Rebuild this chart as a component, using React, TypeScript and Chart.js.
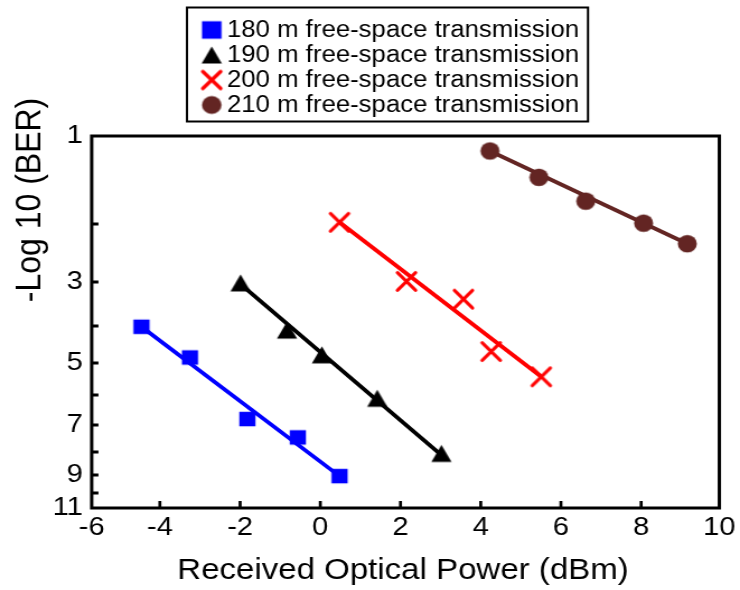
import React, { useEffect, useRef } from 'react';
import { Chart, LinearScale, registerables } from 'chart.js';

Chart.register(...registerables);

// ---------------- data ----------------
const seriesLabels = [
  '180 m free-space transmission',
  '190 m free-space transmission',
  '200 m free-space transmission',
  '210 m free-space transmission',
];

const power180 = [-4.46, -3.25, -1.82, -0.56, 0.48];
const ber180 = [4.02, 4.85, 6.8, 7.46, 9.06];
const power190 = [-1.99, -0.83, 0.04, 1.42, 3.02];
const ber190 = [3.02, 4.11, 4.78, 6.11, 8.06];
const power200 = [0.48, 2.15, 3.57, 4.26, 5.51];
const ber200 = [1.98, 2.99, 3.39, 4.69, 5.43];
const power210 = [4.23, 5.45, 6.62, 8.06, 9.15];
const ber210 = [1.17, 1.47, 1.74, 1.99, 2.34];

// linear fit end points
const fit180Power = [-4.46, 0.48];
const fit180Ber = [4.02, 9.06];
const fit190Power = [-1.99, 3.02];
const fit190Ber = [3.05, 8.13];
const fit200Power = [0.48, 5.51];
const fit200Ber = [1.98, 5.43];
const fit210Power = [4.23, 9.15];
const fit210Ber = [1.17, 2.34];

const xTickValues = [-5.7, -4, -2, 0, 2, 4, 6, 8, 9.95];
const xTickLabels = ['-6', '-4', '-2', '0', '2', '4', '6', '8', '10'];
const yTickValues = [1, 2, 3, 4, 5, 6, 7, 8, 9, 10, 11];
const yTickLabels = ['1', '', '3', '', '5', '', '7', '', '9', '', '11'];
// relative position (0 = top, 1 = bottom) of each y tick value on the axis
const yAxisStops = [0, 0.2366, 0.3925, 0.5108, 0.6102, 0.6962, 0.7769, 0.8495, 0.9113, 0.9597, 1];

// ---------------- layout ----------------
const CSS_W = 740;
const H = 590;
const W = 661; // backing width, displayed stretched to CSS_W
const S = CSS_W / W;
const sx = (v: number) => v / S;
const PLOT_LEFT = sx(91.7);
const PLOT_RIGHT = sx(721);
const PLOT_TOP = 136;
const PLOT_BOTTOM = 508;
const FONT = '"Liberation Sans", Arial, sans-serif';

function warp(v: number): number {
  const vs = yTickValues, fs = yAxisStops;
  const n = vs.length - 1;
  if (v <= vs[0]) return fs[0] + ((v - vs[0]) * (fs[1] - fs[0])) / (vs[1] - vs[0]);
  for (let i = 1; i <= n; i++) {
    if (v <= vs[i]) {
      const t = (v - vs[i - 1]) / (vs[i] - vs[i - 1]);
      return fs[i - 1] + t * (fs[i] - fs[i - 1]);
    }
  }
  return fs[n] + ((v - vs[n]) * (fs[n] - fs[n - 1])) / (vs[n] - vs[n - 1]);
}
function unwarp(f: number): number {
  const vs = yTickValues, fs = yAxisStops;
  const n = vs.length - 1;
  for (let i = 1; i <= n; i++) {
    if (f <= fs[i] || i === n) {
      const t = (f - fs[i - 1]) / (fs[i] - fs[i - 1]);
      return vs[i - 1] + t * (vs[i] - vs[i - 1]);
    }
  }
  return vs[n];
}

class WarpedScale extends LinearScale {
  static id = 'warped';
  static defaults = LinearScale.defaults;
  getPixelForValue(value: any) {
    if (value === null || value === undefined || isNaN(value)) return NaN;
    return this.getPixelForDecimal(warp(value));
  }
  getValueForPixel(pixel: number) {
    return unwarp(this.getDecimalForPixel(pixel));
  }
}
Chart.register(WarpedScale as any);

function makeMarker(kind: string, w: number, h: number, color: string, lw = 3): HTMLCanvasElement {
  const c = document.createElement('canvas');
  c.width = Math.ceil(w + lw + 4);
  c.height = Math.ceil(h + lw + 4);
  const ctx = c.getContext('2d')!;
  const cx = c.width / 2, cy = c.height / 2;
  ctx.fillStyle = color;
  ctx.strokeStyle = color;
  if (kind === 'square') {
    ctx.fillRect(cx - w / 2, cy - h / 2, w, h);
  } else if (kind === 'circle') {
    ctx.beginPath();
    ctx.ellipse(cx, cy, w / 2, h / 2, 0, 0, Math.PI * 2);
    ctx.fill();
  } else if (kind === 'triangle') {
    ctx.beginPath();
    ctx.moveTo(cx, cy - h / 2);
    ctx.lineTo(cx + w / 2, cy + h / 2);
    ctx.lineTo(cx - w / 2, cy + h / 2);
    ctx.closePath();
    ctx.fill();
  } else {
    ctx.lineWidth = lw;
    ctx.lineCap = 'round';
    ctx.beginPath();
    ctx.moveTo(cx - w / 2, cy - h / 2);
    ctx.lineTo(cx + w / 2, cy + h / 2);
    ctx.moveTo(cx + w / 2, cy - h / 2);
    ctx.lineTo(cx - w / 2, cy + h / 2);
    ctx.stroke();
  }
  return c;
}

const COLORS = ['#0000FF', '#000000', '#FF0000', '#632523'];

export default function App() {
  const ref = useRef<HTMLCanvasElement>(null);

  useEffect(() => {
    if (!ref.current) return;
    const plotMarkers = [
      makeMarker('square', 14.5, 14.5, COLORS[0]),
      makeMarker('triangle', 18, 17, COLORS[1]),
      makeMarker('cross', 16, 17.5, COLORS[2], 3.3),
      makeMarker('circle', 17, 17.5, COLORS[3]),
    ];
    const legendMarkers = [
      makeMarker('square', 17.5, 17.5, COLORS[0]),
      makeMarker('triangle', 18, 17, COLORS[1]),
      makeMarker('cross', 16, 17, COLORS[2], 3.3),
      makeMarker('circle', 17.5, 18, COLORS[3]),
    ];

    const pts = (xs: number[], ys: number[]) => xs.map((x, i) => ({ x, y: ys[i] }));
    const series = [
      pts(power180, ber180),
      pts(power190, ber190),
      pts(power200, ber200),
      pts(power210, ber210),
    ];
    const fits = [
      pts(fit180Power, fit180Ber),
      pts(fit190Power, fit190Ber),
      pts(fit200Power, fit200Ber),
      pts(fit210Power, fit210Ber),
    ];

    const datasets: any[] = [];
    series.forEach((d, i) => {
      datasets.push({
        label: seriesLabels[i],
        data: d,
        showLine: false,
        pointStyle: plotMarkers[i],
        pointRadius: 9,
        backgroundColor: COLORS[i],
        borderColor: COLORS[i],
        order: 0,
      });
    });
    fits.forEach((d, i) => {
      datasets.push({
        label: seriesLabels[i] + ' fit',
        data: d,
        showLine: true,
        pointRadius: 0,
        borderWidth: 3.8,
        borderColor: COLORS[i],
        backgroundColor: COLORS[i],
        order: 1,
      });
    });

    const framePlugin = {
      id: 'frame',
      afterDatasetsDraw(chart: any) {
        const { ctx, chartArea: a, scales } = chart;
        const xs = scales.x, ys = scales.y;
        ctx.save();
        ctx.strokeStyle = '#000';
        ctx.lineWidth = 3;
        ctx.strokeRect(a.left, a.top, a.right - a.left, a.bottom - a.top);
        ctx.lineWidth = 2.7;
        ctx.beginPath();
        xs.ticks.forEach((_t: any, i: number) => {
          if (i === 0 || i === xs.ticks.length - 1) return;
          const px = xs.getPixelForTick(i);
          ctx.moveTo(px, a.bottom);
          ctx.lineTo(px, a.bottom - 7);
        });
        ctx.stroke();
        ctx.lineWidth = 3;
        ctx.beginPath();
        ys.ticks.forEach((_t: any, i: number) => {
          if (i === 0 || i === ys.ticks.length - 1) return;
          const py = ys.getPixelForTick(i);
          ctx.moveTo(a.left, py);
          ctx.lineTo(a.left + 6, py);
        });
        ctx.stroke();
        ctx.restore();
      },
    };

    const textPlugin = {
      id: 'texts',
      afterDraw(chart: any) {
        const { ctx } = chart;
        ctx.save();
        ctx.fillStyle = '#000';
        // axis titles
        ctx.textAlign = 'center';
        ctx.textBaseline = 'middle';
        ctx.font = `29.5px ${FONT}`;
        ctx.fillText('Received Optical Power (dBm)', sx(403), 571);
        ctx.save();
        ctx.translate(sx(30), 200);
        ctx.rotate(-Math.PI / 2);
        ctx.font = `32px ${FONT}`;
        ctx.fillText('-Log 10 (BER)', 0, 0);
        ctx.restore();
        // legend
        const L = sx(187), R = sx(588), T = 7.5, B = 121.5;
        ctx.strokeStyle = '#000';
        ctx.lineWidth = 2;
        ctx.strokeRect(L, T, R - L, B - T);
        ctx.textAlign = 'left';
        ctx.font = `23px ${FONT}`;
        seriesLabels.forEach((lab, i) => {
          const y = 30 + i * 25;
          const m = legendMarkers[i];
          ctx.drawImage(m, sx(211.7) - m.width / 2, y - m.height / 2);
          ctx.fillText(lab, sx(227), y + 1);
        });
        ctx.restore();
      },
    };

    const chart = new Chart(ref.current, {
      type: 'scatter',
      data: { datasets },
      options: {
        animation: false,
        responsive: false,
        events: [],
        layout: { padding: { top: PLOT_TOP, right: W - PLOT_RIGHT, left: 0, bottom: 0 } },
        plugins: { legend: { display: false }, tooltip: { enabled: false } },
        scales: {
          x: {
            type: 'linear',
            min: xTickValues[0],
            max: xTickValues[xTickValues.length - 1],
            afterBuildTicks: (s: any) => {
              s.ticks = xTickValues.map((v) => ({ value: v }));
            },
            afterFit: (s: any) => {
              s.height = H - PLOT_BOTTOM;
            },
            grid: { display: false, drawTicks: false },
            border: { display: false },
            ticks: {
              autoSkip: false,
              maxRotation: 0,
              padding: 4,
              color: '#000',
              font: { size: 26, family: FONT },
              callback: (_v: any, i: number) => xTickLabels[i],
            },
          },
          y: {
            type: 'warped' as any,
            min: yTickValues[0],
            max: yTickValues[yTickValues.length - 1],
            reverse: true,
            afterBuildTicks: (s: any) => {
              s.ticks = yTickValues.map((v) => ({ value: v }));
            },
            afterFit: (s: any) => {
              s.width = PLOT_LEFT;
            },
            grid: { display: false, drawTicks: false },
            border: { display: false },
            ticks: {
              autoSkip: false,
              padding: 8,
              color: '#000',
              font: { size: 26, family: FONT },
              callback: (_v: any, i: number) => yTickLabels[i],
            },
          } as any,
        },
      },
      plugins: [framePlugin, textPlugin],
    } as any);

    return () => chart.destroy();
  }, []);

  return (
    <div style={{ position: 'fixed', left: 0, top: 0, width: CSS_W, height: H, background: '#fff' }}>
      <canvas
        ref={ref}
        width={W}
        height={H}
        style={{ width: `${CSS_W}px`, height: `${H}px`, display: 'block' }}
      />
    </div>
  );
}
